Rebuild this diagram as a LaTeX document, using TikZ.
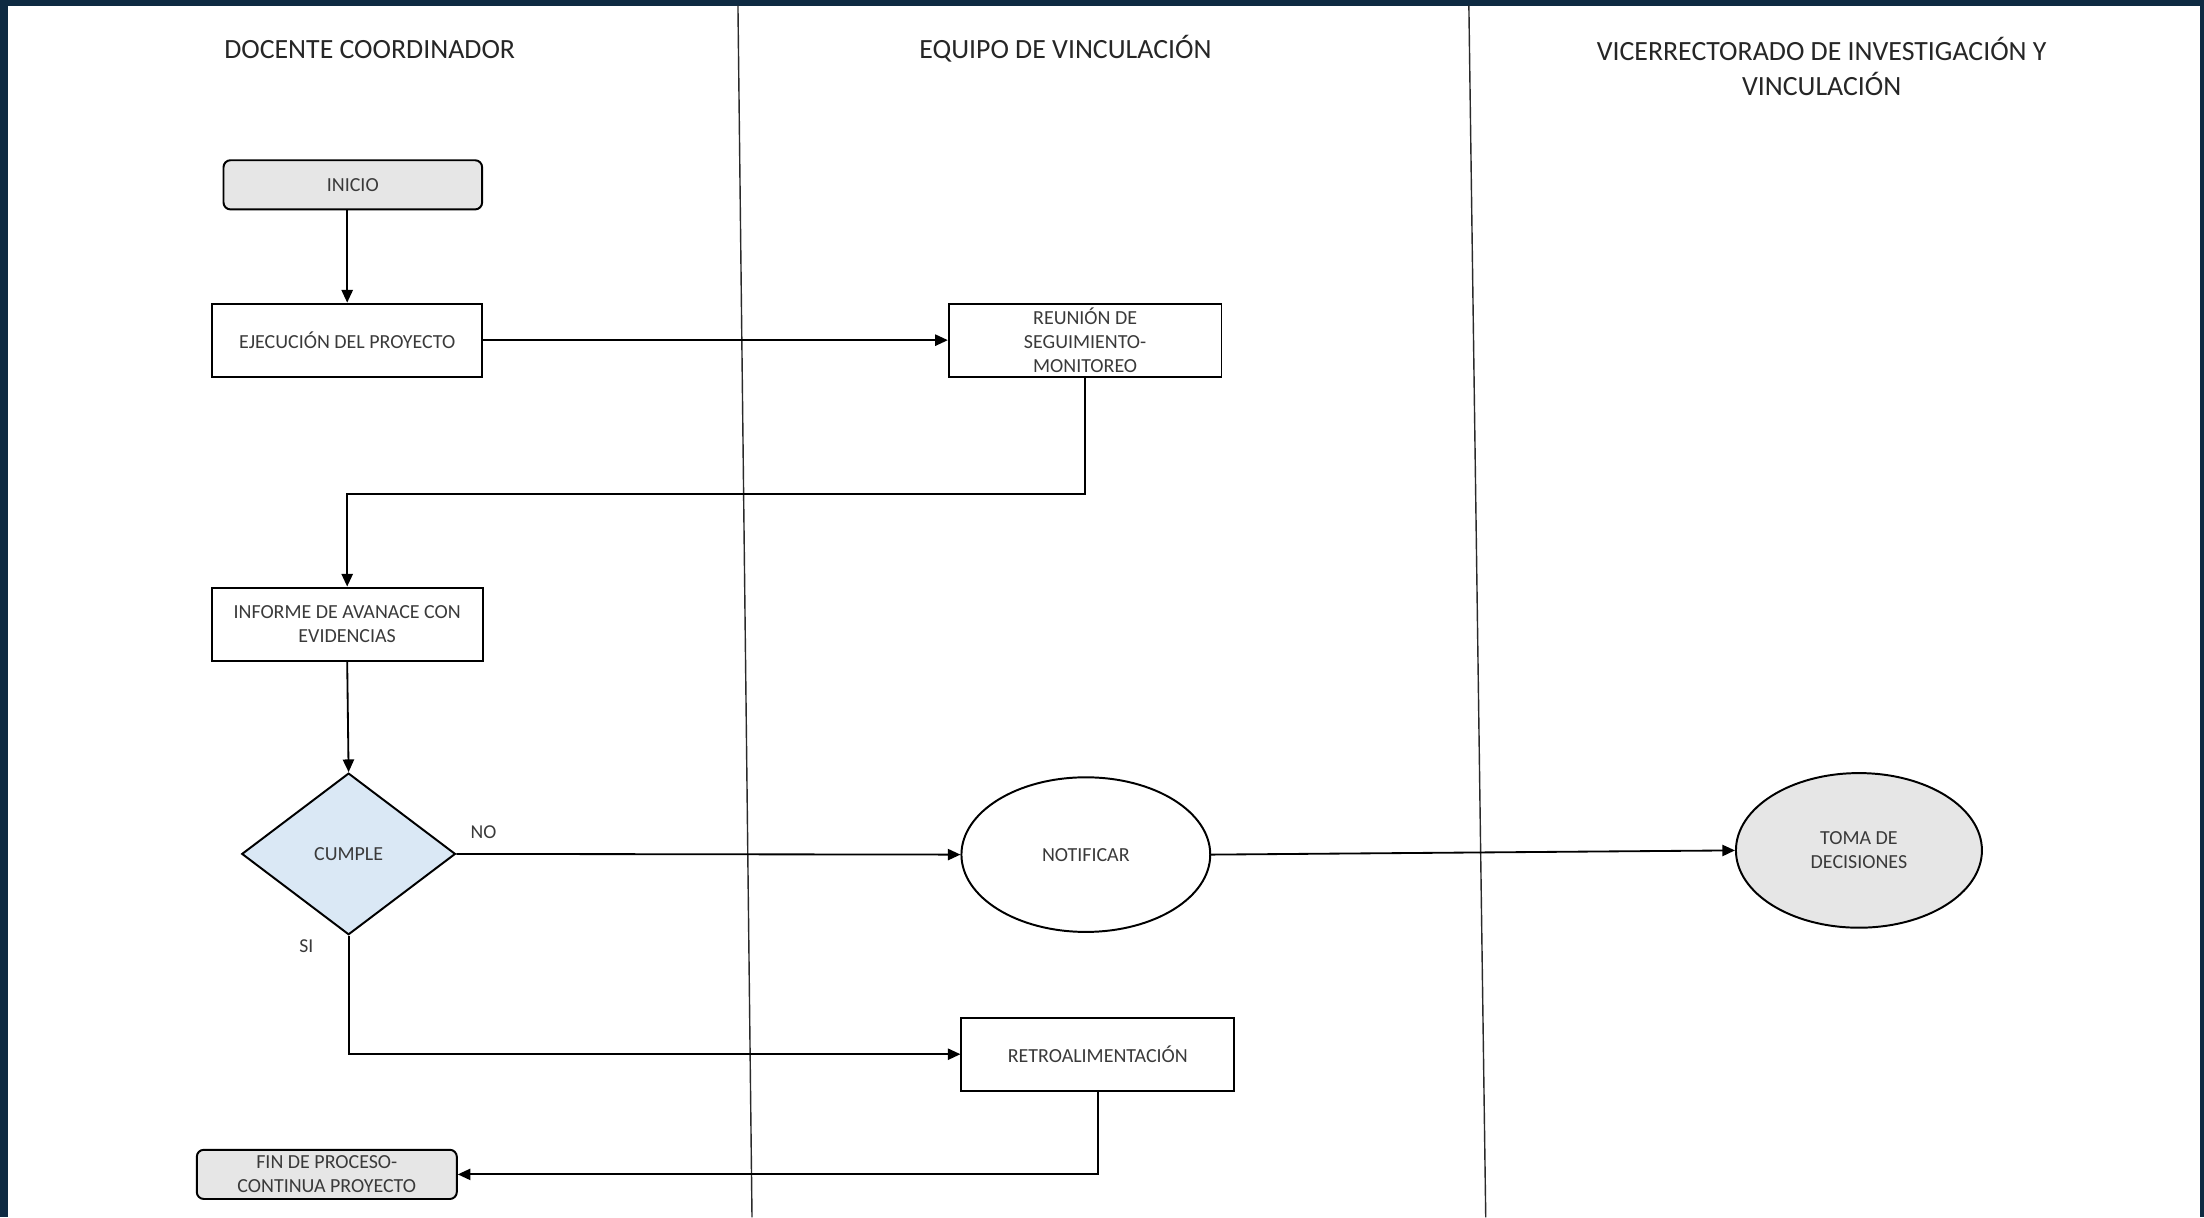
\documentclass[tikz,border=0pt]{standalone}
\usepackage{fontspec}
\setmainfont{Carlito}
\usetikzlibrary{shapes.geometric,arrows.meta}
\definecolor{framecol}{HTML}{0E2A42}
\definecolor{grayfill}{HTML}{E6E6E6}
\definecolor{bluefill}{HTML}{DAE8F5}
\definecolor{txtcol}{HTML}{3A3A3A}
\definecolor{lanecol}{HTML}{2A2A2A}
\begin{document}
\begin{tikzpicture}[x=1pt,y=-1pt,
  base/.style={draw=black, line width=1.4pt, inner sep=0pt, align=center,
    text=txtcol, font=\fontsize{14.2}{17}\selectfont},
  procbox/.style={base, rectangle, minimum width=#1, minimum height=52pt},
  termbox/.style={base, rectangle, rounded corners=5pt, fill=grayfill, minimum width=#1, minimum height=35pt},
  decbox/.style={base, diamond, fill=bluefill, minimum width=152pt, minimum height=115pt},
  ellbox/.style={base, ellipse, minimum width=177pt, minimum height=110pt},
  header/.style={align=center, text=black!85, font=\fontsize{19.8}{25}\selectfont},
  lbl/.style={text=txtcol, font=\fontsize{14}{16}\selectfont},
  conn/.style={draw=black, line width=1.3pt, -{Triangle[length=9pt,width=8pt]}},
  lane/.style={draw=lanecol, line width=1pt}]
\useasboundingbox (0,0) rectangle (1568,866);
\fill[framecol] (0,0) rectangle (1568,866);
\fill[white] (6,4) rectangle (1565,866);

% lanes
\draw[lane] (525,4) -- (535,866);
\draw[lane] (1045,4) -- (1057,866);

% headers
\node[header] (h1) at (263,35) {DOCENTE COORDINADOR};
\node[header] (h2) at (758,35) {EQUIPO DE VINCULACIÓN};
\node[header] (h3) at (1296,47) {VICERRECTORADO DE INVESTIGACIÓN Y\\VINCULACIÓN};

% nodes
\node[termbox=184pt] (inicio) at (251,131.5) {INICIO};
\node[procbox=192pt] (ejec) at (247,242) {EJECUCIÓN DEL PROYECTO};
\node[procbox=194pt] (reunion) at (772,242) {REUNIÓN DE\\SEGUIMIENTO-\\MONITOREO};
\node[procbox=193pt] (informe) at (247,444) {INFORME DE AVANACE CON\\EVIDENCIAS};
\node[decbox] (cumple) at (248,607.5) {CUMPLE};
\node[ellbox] (notificar) at (772.5,608) {NOTIFICAR};
\node[ellbox, fill=grayfill, minimum width=175pt] (toma) at (1322.5,605) {TOMA DE\\DECISIONES};
\node[procbox=194pt] (retro) at (781,750) {RETROALIMENTACIÓN};
\node[termbox=185pt] (fin) at (232.5,835.5) {FIN DE PROCESO-\\CONTINUA PROYECTO};

% labels
\node[lbl] (no) at (344,592) {NO};
\node[lbl] (si) at (218,673) {SI};

% connectors
\draw[conn] (ejec.north |- inicio.south) -- (ejec.north);
\draw[conn] (ejec.east) -- (reunion.west);
\draw[conn] (reunion.south) -- ++(0,83) -| (informe.north);
\draw[conn] (informe.south) -- (cumple.north);
\draw[conn] (cumple.east) -- (notificar.west);
\draw[conn] (notificar.east) -- (toma.west);
\draw[conn] (cumple.south) |- (retro.west);
\draw[conn] (retro.south) |- (fin.east);
\end{tikzpicture}
\end{document}
